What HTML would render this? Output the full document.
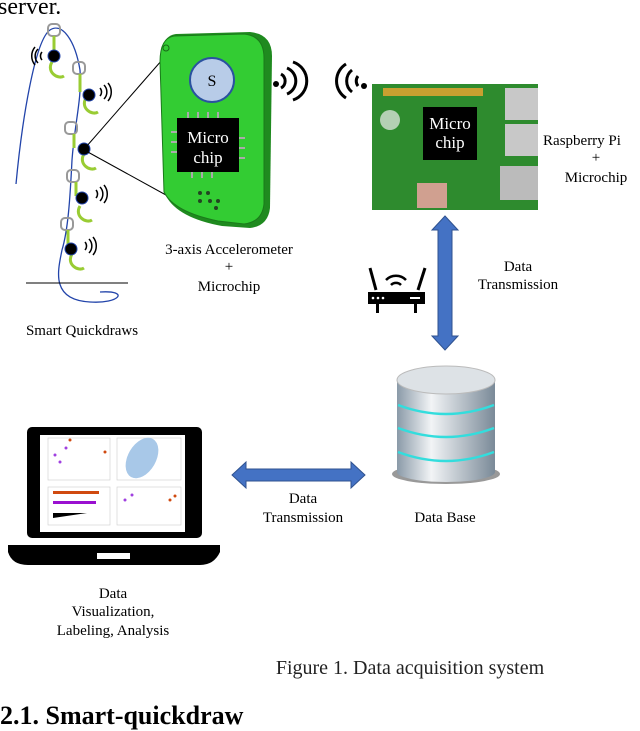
<!DOCTYPE html>
<html><head><meta charset="utf-8"><style>
body{margin:0;background:#fff;}
svg{display:block;font-family:"Liberation Serif",serif;}
</style></head><body>
<svg width="640" height="731" viewBox="0 0 640 731" xmlns="http://www.w3.org/2000/svg">
<text x="-2" y="14" font-size="24">server.</text>
<path d="M16 184 C22 120 35 40 50 30 C62 22 75 40 80 70 C82 100 75 120 72 160 C70 200 68 230 62 250 C58 270 50 300 90 302 C120 304 130 290 100 292" fill="none" stroke="#2244aa" stroke-width="1.3"/>
<line x1="26" y1="283" x2="128" y2="283" stroke="#000" stroke-width="1"/>
<g stroke="#999" stroke-width="2" fill="none">
<rect x="48" y="24" width="12" height="12" rx="4"/><rect x="73" y="62" width="12" height="12" rx="4"/>
<rect x="65" y="122" width="12" height="12" rx="4"/><rect x="67" y="170" width="12" height="12" rx="4"/><rect x="61" y="218" width="12" height="12" rx="4"/>
</g>
<g stroke="#99cc33" stroke-width="3" fill="none">
<path d="M54 36 v16 M52 62 c-6 10 6 18 12 14"/><path d="M80 74 v18 M86 98 c-6 10 6 18 12 14"/>
<path d="M74 134 v14 M84 154 c-6 10 6 18 12 14"/><path d="M76 182 v14 M80 206 c-6 10 6 18 12 14"/><path d="M68 230 v14 M72 254 c-6 10 6 18 12 14"/>
</g>
<g fill="#000" stroke="#2244aa" stroke-width="1">
<circle cx="54" cy="56" r="6"/><circle cx="89" cy="95" r="6"/><circle cx="84" cy="149" r="6"/><circle cx="82" cy="198" r="6"/><circle cx="71" cy="249" r="6"/>
</g>
<g fill="none" stroke="#000" stroke-width="1.5">
<path d="M42 52 a6 6 0 0 0 0 8 M38 49 a10 10 0 0 0 0 14 M35 47 a14 14 0 0 0 0 18"/>
<path d="M100 88 a6 6 0 0 1 0 8 M104 85 a10 10 0 0 1 0 14 M108 83 a14 14 0 0 1 0 18"/>
<path d="M96 190 a6 6 0 0 1 0 8 M100 187 a10 10 0 0 1 0 14 M104 185 a14 14 0 0 1 0 18"/>
<path d="M85 242 a6 6 0 0 1 0 8 M89 239 a10 10 0 0 1 0 14 M93 237 a14 14 0 0 1 0 18"/>
</g>
<line x1="86" y1="147" x2="162" y2="60" stroke="#000"/><line x1="86" y1="151" x2="175" y2="200" stroke="#000"/>
<path d="M176 34 L250 32 Q272 34 272 56 L270 208 Q268 226 250 228 L222 226 Q178 218 166 196 L160 64 Q160 36 176 34 Z" fill="#1f8a1f"/>
<path d="M174 36 L244 34 Q264 36 264 58 L264 204 Q262 222 244 224 L218 221 Q174 212 164 192 L160 62 Q160 38 174 36 Z" fill="#33cc33" stroke="#1a7a1a"/>
<circle cx="166" cy="48" r="3" fill="none" stroke="#1a6a1a"/>
<circle cx="212" cy="80" r="22" fill="#b8cce8" stroke="#2a52a0" stroke-width="2"/>
<text x="212" y="86" font-size="16" text-anchor="middle">S</text>
<rect x="177" y="118" width="62" height="54" fill="#000"/>
<g stroke="#aaa" stroke-width="2"><path d="M188 112 v6 M198 112 v6 M208 112 v6 M218 112 v6 M192 172 v6 M202 172 v6 M212 172 v6 M171 132 h6 M171 142 h6 M171 152 h6 M239 138 h6 M239 148 h6 M239 158 h6"/></g>
<text x="208" y="143" font-size="17" fill="#fff" text-anchor="middle">Micro</text>
<text x="208" y="163" font-size="17" fill="#fff" text-anchor="middle">chip</text>
<g fill="#224422"><circle cx="200" cy="193" r="2"/><circle cx="208" cy="193" r="2"/><circle cx="200" cy="201" r="2"/><circle cx="210" cy="201" r="2"/><circle cx="218" cy="201" r="2"/><circle cx="216" cy="208" r="2"/></g>
<g fill="none" stroke="#000" stroke-width="3"><path d="M281 74 a8 8 0 0 1 0 14 M287 68 a14 14 0 0 1 0 26 M293 62 a20 20 0 0 1 0 38"/></g>
<circle cx="276" cy="84" r="3"/>
<g font-size="15" text-anchor="middle">
<text x="229" y="254">3-axis Accelerometer</text><text x="229" y="271">+</text><text x="229" y="291">Microchip</text>
<text x="82" y="335">Smart Quickdraws</text>
<text x="582" y="145">Raspberry Pi</text><text x="596" y="162">+</text><text x="596" y="182">Microchip</text>
<text x="518" y="271">Data</text><text x="518" y="289">Transmission</text>
<text x="303" y="503">Data</text><text x="303" y="522">Transmission</text>
<text x="445" y="522">Data Base</text>
<text x="113" y="598">Data</text><text x="113" y="616">Visualization,</text><text x="113" y="635">Labeling, Analysis</text>
</g>
<g fill="none" stroke="#000" stroke-width="3"><path d="M358 76 a8 8 0 0 0 0 10 M352 70 a14 14 0 0 0 0 22 M346 64 a20 20 0 0 0 0 34"/></g>
<circle cx="364" cy="86" r="3"/>
<rect x="372" y="84" width="166" height="126" fill="#2e8b2e"/>
<rect x="383" y="88" width="100" height="8" fill="#c8a030"/>
<rect x="505" y="88" width="33" height="32" fill="#c8c8c8"/><rect x="505" y="124" width="33" height="32" fill="#c8c8c8"/>
<rect x="500" y="166" width="38" height="34" fill="#bbb"/>
<rect x="417" y="183" width="30" height="25" fill="#d0a090"/>
<circle cx="390" cy="120" r="10" fill="#eee" opacity=".7"/>
<rect x="423" y="107" width="54" height="53" fill="#000"/>
<text x="450" y="129" font-size="17" fill="#fff" text-anchor="middle">Micro</text>
<text x="450" y="148" font-size="17" fill="#fff" text-anchor="middle">chip</text>
<path d="M445 216 L458 230 L452 230 L452 336 L458 336 L445 350 L432 336 L438 336 L438 230 L432 230 Z" fill="#4472c4" stroke="#2f528f"/>
<g stroke="#000" stroke-width="3"><line x1="370" y1="268" x2="376" y2="290"/><line x1="425" y1="268" x2="418" y2="290"/></g>
<rect x="368" y="292" width="57" height="12" fill="#000"/>
<rect x="376" y="304" width="3" height="9"/><rect x="414" y="304" width="3" height="9"/>
<g fill="none" stroke="#000" stroke-width="2.5"><path d="M386 280 a14 14 0 0 1 20 0 M391 285 a7 7 0 0 1 10 0"/></g>
<g fill="#fff"><circle cx="373" cy="298" r="1.3"/><circle cx="378" cy="298" r="1.3"/><circle cx="383" cy="298" r="1.3"/><rect x="410" y="297" width="10" height="2"/></g>
<defs><linearGradient id="g" x1="0" x2="1"><stop offset="0" stop-color="#8a9aa8"/><stop offset=".35" stop-color="#f2f4f6"/><stop offset="1" stop-color="#7a8a98"/></linearGradient></defs>
<ellipse cx="446" cy="474" rx="54" ry="10" fill="#333" opacity=".5"/>
<rect x="397" y="380" width="98" height="92" fill="url(#g)"/>
<ellipse cx="446" cy="472" rx="49" ry="10" fill="url(#g)"/>
<ellipse cx="446" cy="380" rx="49" ry="14" fill="#dde2e6" stroke="#bbb"/>
<g fill="none" stroke="#3dd" stroke-width="2.5"><path d="M398 405 q48 18 96 0"/><path d="M398 428 q48 18 96 0"/><path d="M398 452 q48 18 96 0"/></g>
<path d="M232 475 L246 462 L246 469 L351 469 L351 462 L365 475 L351 488 L351 481 L246 481 L246 488 Z" fill="#4472c4" stroke="#2f528f"/>
<rect x="27" y="427" width="175" height="111" rx="5" fill="#000"/>
<rect x="40" y="435" width="145" height="97" fill="#fff"/>
<g fill="none" stroke="#ccc" stroke-width=".6"><rect x="48" y="438" width="62" height="42"/><rect x="117" y="438" width="64" height="42"/><rect x="48" y="487" width="62" height="38"/><rect x="117" y="487" width="64" height="38"/></g>
<ellipse cx="142" cy="458" rx="14" ry="22" fill="#a8c8e8" transform="rotate(30 142 458)"/>
<g fill="#a040e0"><circle cx="55" cy="455" r="1.5"/><circle cx="60" cy="462" r="1.5"/><circle cx="66" cy="448" r="1.5"/><circle cx="125" cy="500" r="1.5"/><circle cx="132" cy="495" r="1.5"/></g>
<g fill="#d04a10"><circle cx="70" cy="440" r="1.5"/><circle cx="105" cy="452" r="1.5"/><circle cx="170" cy="500" r="1.5"/><circle cx="175" cy="496" r="1.5"/></g>
<rect x="53" y="491" width="46" height="3" fill="#d04a10"/><rect x="53" y="501" width="43" height="3" fill="#9a10d0"/><path d="M53 513 L87 513 L53 518 Z" fill="#000"/>
<path d="M8 545 L220 545 L220 552 Q214 565 200 565 L28 565 Q12 565 8 552 Z" fill="#000"/>
<rect x="97" y="553" width="33" height="6" fill="#fff"/>
<text x="410" y="674" font-size="20" text-anchor="middle" fill="#222">Figure 1. Data acquisition system</text>
<text x="0" y="724" font-size="26" font-weight="bold">2.1. Smart-quickdraw</text>
</svg>
</body></html>
